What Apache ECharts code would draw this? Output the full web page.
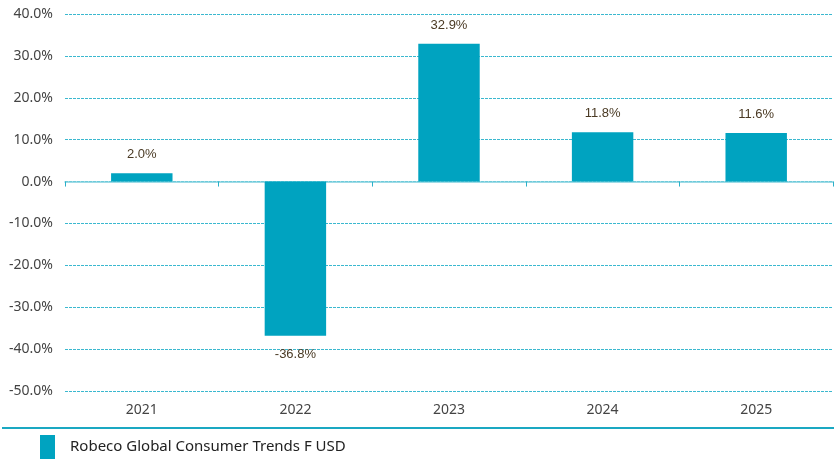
<!DOCTYPE html>
<html>
<head>
<meta charset="utf-8">
<script src="https://cdn.jsdelivr.net/npm/echarts@6/dist/echarts.min.js"></script>
<style>
  html, body { margin: 0; padding: 0; background: #fff; }
  #chart { width: 834px; height: 459px; }
</style>
</head>
<body>
<div id="chart"></div>
<script>
const years = ['2021', '2022', '2023', '2024', '2025']
const returns = [2.0, -36.8, 32.9, 11.8, 11.6]
const seriesName = 'Robeco Global Consumer Trends F USD'

const chart = echarts.init(document.getElementById('chart'))

chart.setOption({
  animation: false,
  grid: { left: 65, right: 1, top: 14, bottom: 68 },
  legend: {
    left: 40,
    top: 435,
    padding: 0,
    itemWidth: 15,
    itemHeight: 24,
    itemGap: 10,
    textStyle: { fontFamily: 'Noto Sans', fontSize: 15, color: '#222', padding: [0, 0, 0, 10] },
    data: [{ name: seriesName, icon: 'rect' }]
  },
  xAxis: [{
    // zero line with ticks between categories
    type: 'category',
    data: years,
    axisLine: { onZero: true, lineStyle: { color: '#7fd0de', width: 1.5 } },
    axisTick: { show: true, length: 5, lineStyle: { color: '#2bb0c8' } },
    axisLabel: { show: false }
  }, {
    // year labels along the bottom of the plot
    type: 'category',
    data: years,
    position: 'bottom',
    axisLine: { show: false, onZero: false },
    axisTick: { show: false },
    axisLabel: { fontFamily: 'Noto Sans', fontSize: 14, color: '#444', margin: 12 }
  }],
  yAxis: {
    type: 'value',
    min: -50,
    max: 40,
    interval: 10,
    axisLine: { show: false },
    axisTick: { show: false },
    axisLabel: {
      fontFamily: 'Noto Sans', fontSize: 14, color: '#444', margin: 12,
      formatter: function (v) { return v.toFixed(1) + '%' }
    },
    splitLine: { lineStyle: { color: '#3bb8cf', type: [3, 1], width: 1 } }
  },
  series: [{
    name: seriesName,
    type: 'bar',
    xAxisIndex: 0,
    data: returns,
    barWidth: '40%',
    itemStyle: { color: '#00a3c0' },
    label: {
      show: true,
      position: 'outside',
      distance: 12,
      fontFamily: 'Liberation Sans',
      fontSize: 13,
      color: '#4a3a24',
      formatter: function (p) { return p.value.toFixed(1) + '%' }
    }
  }],
  graphic: [{
    type: 'line',
    shape: { x1: 2, y1: 428, x2: 834, y2: 428 },
    style: { stroke: '#1aa8c2', lineWidth: 2 }
  }]
})
</script>
</body>
</html>
